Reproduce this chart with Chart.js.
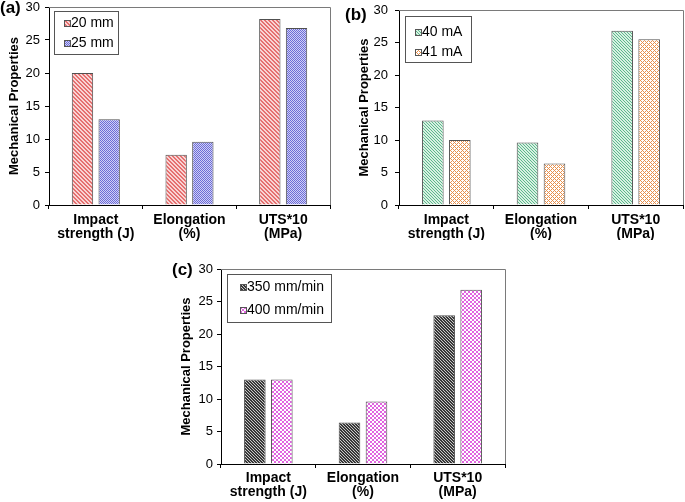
<!DOCTYPE html>
<html><head><meta charset="utf-8">
<script src="https://cdn.jsdelivr.net/npm/chart.js@4/dist/chart.umd.min.js"></script>
<style>
html,body{margin:0;padding:0;background:#fff;width:685px;height:502px;overflow:hidden;position:relative}
.p{position:absolute;overflow:hidden}
.lbl{position:absolute;font:bold 17px "Liberation Sans",Arial,sans-serif;color:#000;line-height:18px;white-space:nowrap}
canvas{display:block}
</style></head><body>
<div class="p" style="left:0;top:0;width:340px;height:250px"><canvas id="ca"></canvas></div>
<div class="p" style="left:340px;top:0;width:345px;height:240px"><canvas id="cb"></canvas></div>
<div class="p" style="left:170px;top:255px;width:345px;height:247px"><canvas id="cc"></canvas></div>
<div class="lbl" style="left:0;top:-1px">(a)</div>
<div class="lbl" style="left:345px;top:6px">(b)</div>
<div class="lbl" style="left:172px;top:261px">(c)</div>
<script>
// ---- data ----
const categories = [['Impact','strength (J)'],['Elongation','(%)'],['UTS*10','(MPa)']];
const yTicks = [0,5,10,15,20,25,30];
const yTitle = 'Mechanical Properties';
const labelsA = ['20 mm','25 mm'];
const seriesA_20mm = [20.0, 7.6, 28.2];
const seriesA_25mm = [13.0, 9.6, 26.8];
const labelsB = ['40 mA','41 mA'];
const seriesB_40mA = [13.0, 9.6, 26.8];
const seriesB_41mA = [10.0, 6.4, 25.5];
const labelsC = ['350 mm/min','400 mm/min'];
const seriesC_350 = [13.0, 6.4, 22.9];
const seriesC_400 = [13.0, 9.6, 26.8];

const FONT = '"Liberation Sans", Arial, sans-serif';
Chart.defaults.font.family = FONT;
Chart.defaults.color = '#000';

function pattern(size, bg, fg, fn){
  const c=document.createElement('canvas'); c.width=size; c.height=size;
  const g=c.getContext('2d'); g.fillStyle=bg; g.fillRect(0,0,size,size);
  g.fillStyle=fg;
  for(let y=0;y<size;y++)for(let x=0;x<size;x++) if(fn(x,y)) g.fillRect(x,y,1,1);
  return g.createPattern(c,'repeat');
}
const fillRed   = pattern(4,'#f9d4d4','#e57070',(x,y)=>((x-y+8)%4)<2);
const fillBlue  = pattern(2,'#d0d0f6','#6c6cd6',(x,y)=>(x+y)%2===0);
const fillGreen = pattern(3,'#d8f0e2','#5cb88c',(x,y)=>((x-y+6)%3)===0);
const fillOrange= pattern(4,'#ffffff','#e8904c',(x,y)=>((x+y)%4)===0||((x-y+8)%4)===0);
const fillGray  = pattern(3,'#c8c8c8','#383838',(x,y)=>((x-y+6)%3)!==0);
const fillPink  = pattern(4,'#e064e0','#ffffff',(x,y)=>(((x>>1)+(y>>1))%2)===0);

const panelPlugin = {
  id:'panel',
  afterDraw(chart, args, opts){
    const {ctx, chartArea:a} = chart;
    ctx.save();
    ctx.strokeStyle='#7a7a7a'; ctx.lineWidth=1;
    ctx.beginPath();
    const r=Math.round(a.right)+0.5, t=Math.round(a.top)+0.5;
    ctx.moveTo(a.left, t); ctx.lineTo(r, t); ctx.lineTo(r, a.bottom);
    ctx.stroke();
    const L = opts.legend;
    ctx.fillStyle='#fff'; ctx.fillRect(L.x,L.y,L.w,L.h);
    ctx.strokeStyle='#555'; ctx.strokeRect(L.x+0.5,L.y+0.5,L.w,L.h);
    ctx.font = '14px ' + FONT;
    ctx.textBaseline='middle'; ctx.textAlign='left';
    chart.data.datasets.forEach((ds,i)=>{
      const y = L.rows[i];
      ctx.fillStyle = ds.backgroundColor; ctx.fillRect(L.sx, y-3, 6, 6);
      ctx.strokeStyle='#555'; ctx.strokeRect(L.sx+0.5, y-3+0.5, 6, 6);
      ctx.fillStyle='#000'; ctx.fillText(ds.label, L.tx, y+0.5);
    });
    ctx.restore();
  }
};

function makeChart(id, w, h, cfg){
  const cv = document.getElementById(id); cv.width=w; cv.height=h;
  cv.style.width=w+'px'; cv.style.height=h+'px';
  return new Chart(cv, {
    type:'bar',
    data:{labels:categories, datasets:[
      {label:cfg.labels[0], data:cfg.data[0], backgroundColor:cfg.fills[0], borderColor:'#505050', borderWidth:1},
      {label:cfg.labels[1], data:cfg.data[1], backgroundColor:cfg.fills[1], borderColor:'#505050', borderWidth:1}
    ]},
    options:{
      responsive:false, animation:false, devicePixelRatio:1,
      layout:{padding:{left:0,top:cfg.top,right:cfg.right,bottom:0}},
      plugins:{legend:{display:false}, tooltip:{enabled:false}, panel:{legend:cfg.legend}},
      datasets:{bar:{categoryPercentage:0.57, barPercentage:0.8}},
      scales:{
        x:{
          grid:{display:true, drawOnChartArea:false, drawTicks:true, tickLength:4, color:'#000', offset:true},
          border:{display:true,color:'#000',width:1},
          ticks:{color:'#000', font:{size:14, weight:'bold', lineHeight:1.0}, padding:cfg.xpad, maxRotation:0, minRotation:0, autoSkip:false},
          afterFit(s){ s.height=cfg.xh; s.paddingLeft=0; s.paddingRight=0; }
        },
        y:{
          min:0, max:30,
          afterBuildTicks(s){ s.ticks = yTicks.map(v=>({value:v})); },
          grid:{drawOnChartArea:false, drawTicks:true, tickLength:4, color:'#000'},
          border:{display:true,color:'#000',width:1},
          ticks:{color:'#000', font:{size:13}, padding:cfg.ypad},
          title:{display:true, text:yTitle, font:{size:13, weight:'bold'}, color:'#000', padding:{top:cfg.tpad, bottom:0}},
          afterFit(s){ s.width=cfg.yw; s.paddingTop=0; s.paddingBottom=0; }
        }
      }
    },
    plugins:[panelPlugin]
  });
}

makeChart('ca', 340, 250, {
  labels:labelsA, data:[seriesA_20mm, seriesA_25mm], fills:[fillRed, fillBlue],
  top:7, right:10, xh:45, yw:49, xpad:4, ypad:5, tpad:7,
  legend:{x:54,y:11,w:64,h:43,rows:[23,43],sx:64,tx:71}
});
makeChart('cb', 345, 240, {
  labels:labelsB, data:[seriesB_40mA, seriesB_41mA], fills:[fillGreen, fillOrange],
  top:10, right:2, xh:35, yw:59, xpad:4, ypad:7, tpad:17,
  legend:{x:65,y:16,w:66,h:46,rows:[32,52],sx:75,tx:82}
});
makeChart('cc', 345, 247, {
  labels:labelsC, data:[seriesC_350, seriesC_400], fills:[fillGray, fillPink],
  top:14, right:10, xh:38, yw:51, xpad:3, ypad:4, tpad:9,
  legend:{x:57,y:19,w:104,h:48,rows:[32,55],sx:70,tx:77}
});
</script>
</body></html>
